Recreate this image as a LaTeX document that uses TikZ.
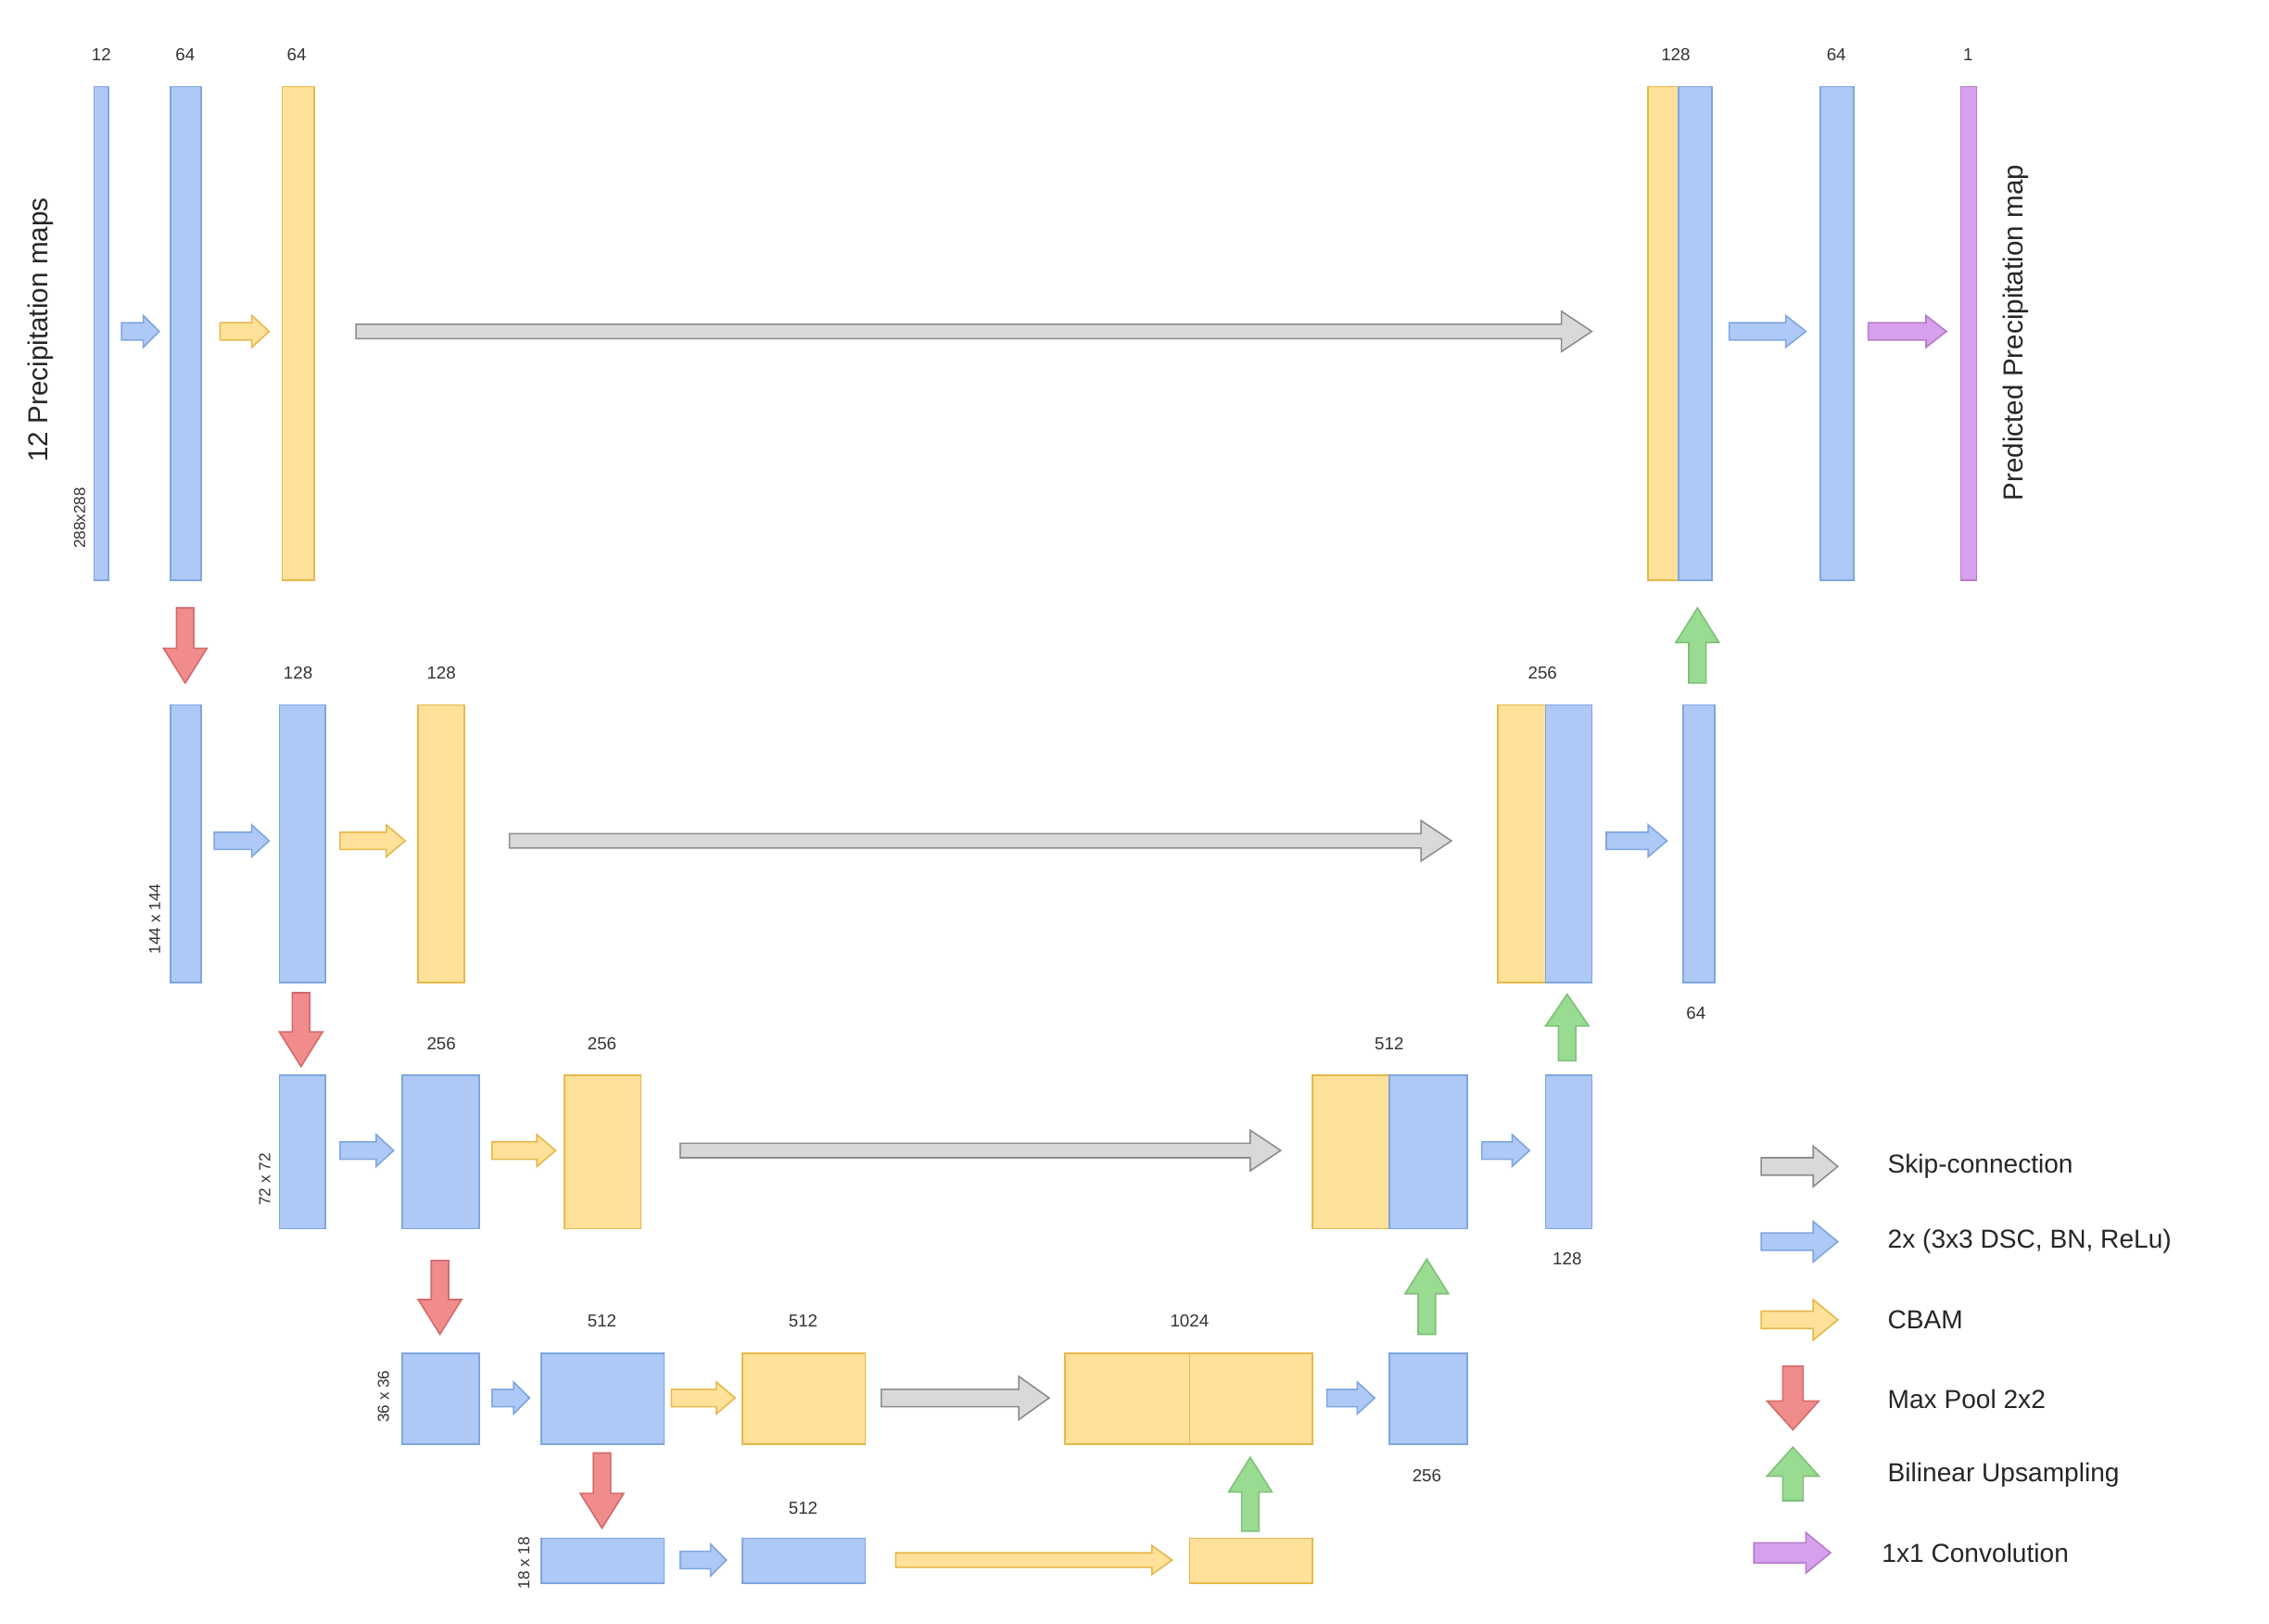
\documentclass[tikz,border=0pt]{standalone}
\usepackage{fontspec}
\setmainfont{Liberation Sans}
\definecolor{bF}{HTML}{AEC9F5}\definecolor{bD}{HTML}{7EA6E0}
\definecolor{yF}{HTML}{FFE199}\definecolor{yD}{HTML}{E6B84A}
\definecolor{gF}{HTML}{D9D9D9}\definecolor{gD}{HTML}{8C8C8C}
\definecolor{rF}{HTML}{F08C8C}\definecolor{rD}{HTML}{D46A6A}
\definecolor{nF}{HTML}{9ADB92}\definecolor{nD}{HTML}{7FC078}
\definecolor{pF}{HTML}{D7A0EC}\definecolor{pD}{HTML}{B47CCB}
\tikzset{
 bl/.style={fill=bF,draw=bD,line width=1pt},
 yl/.style={fill=yF,draw=yD,line width=1pt},
 gr/.style={fill=gF,draw=gD,line width=1pt},
 rd/.style={fill=rF,draw=rD,line width=1pt},
 gn/.style={fill=nF,draw=nD,line width=1pt},
 pu/.style={fill=pF,draw=pD,line width=1pt},
 num/.style={font=\fontsize{12}{14}\selectfont,text=black!80},
 dim/.style={font=\fontsize{11}{13}\selectfont,text=black!80,rotate=90},
 leg/.style={font=\fontsize{18}{21}\selectfont,text=black!85,anchor=west},
}
\newcommand\blk[6]{\node[#6,inner sep=0pt,outer sep=0pt,minimum width={(#4-#2)*1pt},minimum height={(#5-#3)*1pt}] (#1) at ({(#2+#4)/2},{(#3+#5)/2}) {};}
% horizontal right arrow: x1,x2,y,shaft half,head half,head len,style
\newcommand\hArr[7]{\draw[#7] (#1,#3-#4) -- (#2-#6,#3-#4) -- (#2-#6,#3-#5) -- (#2,#3) -- (#2-#6,#3+#5) -- (#2-#6,#3+#4) -- (#1,#3+#4) -- cycle;}
% vertical down arrow: x,y1,y2,...
\newcommand\dArr[7]{\draw[#7] (#1-#4,#2) -- (#1-#4,#3-#6) -- (#1-#5,#3-#6) -- (#1,#3) -- (#1+#5,#3-#6) -- (#1+#4,#3-#6) -- (#1+#4,#2) -- cycle;}
% vertical up arrow: x,y1(bottom),y2(top)
\newcommand\uArr[7]{\draw[#7] (#1-#4,#2) -- (#1-#4,#3+#6) -- (#1-#5,#3+#6) -- (#1,#3) -- (#1+#5,#3+#6) -- (#1+#4,#3+#6) -- (#1+#4,#2) -- cycle;}
\begin{document}
\begin{tikzpicture}[x=1pt,y=-1pt]
\useasboundingbox[fill=white] (0,0) rectangle (1568,1122);
% ---- row 1
\blk{a1}{65}{60}{75}{401}{bl}
\blk{a2}{118}{60}{139}{401}{bl}
\blk{a3}{195}{60}{217}{401}{yl}
\blk{a4}{1139}{60}{1160}{401}{yl}
\blk{a5}{1160}{60}{1183}{401}{bl}
\blk{a6}{1258}{60}{1281}{401}{bl}
\blk{a7}{1355}{60}{1366}{401}{pu}
\node[num] at (70,38) {12};
\node[num] at (128,38) {64};
\node[num] at (205,38) {64};
\node[num] at (1158,38) {128};
\node[num] at (1269,38) {64};
\node[num] at (1360,38) {1};
\node[rotate=90,font=\fontsize{19}{22}\selectfont,text=black!85] at (28,228) {12 Precipitation maps};
\node[dim] at (55,358) {288x288};
\node[rotate=90,font=\fontsize{19}{22}\selectfont,text=black!85] at (1393,230) {Predicted Precipitation map};
\hArr{84}{110}{229}{6}{11}{11}{bl}
\hArr{152}{186}{229}{6}{11}{12}{yl}
\hArr{246}{1100}{229}{5}{14}{21}{gr}
\hArr{1195}{1248}{229}{6}{11}{14}{bl}
\hArr{1291}{1345}{229}{6}{11}{14}{pu}
\dArr{128}{420}{472}{6}{15}{24}{rd}
\uArr{1173}{472}{420}{6}{15}{24}{gn}
% ---- row 2
\blk{b1}{118}{487}{139}{679}{bl}
\blk{b2}{193}{487}{225}{679}{bl}
\blk{b3}{289}{487}{321}{679}{yl}
\blk{b4}{1035}{487}{1068}{679}{yl}
\blk{b5}{1068}{487}{1100}{679}{bl}
\blk{b6}{1163}{487}{1185}{679}{bl}
\node[num] at (206,465) {128};
\node[num] at (305,465) {128};
\node[num] at (1066,465) {256};
\node[num] at (1172,700) {64};
\node[dim] at (107,635) {144 x 144};
\hArr{148}{186}{581}{6}{11}{12}{bl}
\hArr{235}{280}{581}{6}{11}{13}{yl}
\hArr{352}{1003}{581}{5}{14}{21}{gr}
\hArr{1110}{1152}{581}{6}{11}{13}{bl}
\dArr{208}{686}{737}{6}{15}{24}{rd}
\uArr{1083}{733}{687}{6}{15}{22}{gn}
% ---- row 3
\blk{c1}{193}{743}{225}{849}{bl}
\blk{c2}{278}{743}{331}{849}{bl}
\blk{c3}{390}{743}{443}{849}{yl}
\blk{c4}{907}{743}{960}{849}{yl}
\blk{c5}{960}{743}{1014}{849}{bl}
\blk{c6}{1068}{743}{1100}{849}{bl}
\node[num] at (305,721) {256};
\node[num] at (416,721) {256};
\node[num] at (960,721) {512};
\node[num] at (1083,870) {128};
\node[dim] at (183,815) {72 x 72};
\hArr{235}{272}{795}{6}{11}{12}{bl}
\hArr{340}{384}{795}{6}{11}{13}{yl}
\hArr{470}{885}{795}{5}{14}{21}{gr}
\hArr{1024}{1057}{795}{6}{11}{12}{bl}
\dArr{304}{871}{922}{6}{15}{24}{rd}
\uArr{986}{922}{870}{6}{15}{24}{gn}
% ---- row 4
\blk{d1}{278}{935}{331}{998}{bl}
\blk{d2}{374}{935}{459}{998}{bl}
\blk{d3}{513}{935}{598}{998}{yl}
\blk{d4}{736}{935}{822}{998}{yl}
\blk{d5}{822}{935}{907}{998}{yl}
\blk{d6}{960}{935}{1014}{998}{bl}
\node[num] at (416,913) {512};
\node[num] at (555,913) {512};
\node[num] at (822,913) {1024};
\node[num] at (986,1020) {256};
\node[dim] at (265,965) {36 x 36};
\hArr{340}{366}{966}{6}{11}{11}{bl}
\hArr{464}{508}{966}{6}{11}{13}{yl}
\hArr{609}{725}{966}{6}{15}{21}{gr}
\hArr{917}{950}{966}{6}{11}{12}{bl}
\dArr{416}{1004}{1056}{6}{15}{24}{rd}
\uArr{864}{1058}{1007}{6}{15}{24}{gn}
% ---- row 5
\blk{e1}{374}{1063}{459}{1094}{bl}
\blk{e2}{513}{1063}{598}{1094}{bl}
\blk{e3}{822}{1063}{907}{1094}{yl}
\node[num] at (555,1042) {512};
\node[dim] at (362,1080) {18 x 18};
\hArr{470}{502}{1078}{6}{11}{11}{bl}
\hArr{619}{810}{1078}{5}{10}{14}{yl}
% ---- legend
\hArr{1217}{1270}{806}{6}{14}{17}{gr}
\hArr{1217}{1270}{858}{6}{14}{17}{bl}
\hArr{1217}{1270}{912}{6}{14}{17}{yl}
\dArr{1239}{944}{988}{7}{18}{20}{rd}
\uArr{1239}{1037}{1000}{7}{18}{20}{gn}
\hArr{1212}{1265}{1073}{7}{14}{17}{pu}
\node[leg] at (1301,806) {Skip-connection};
\node[leg] at (1301,858) {2x (3x3 DSC, BN, ReLu)};
\node[leg] at (1301,912) {CBAM};
\node[leg] at (1301,967) {Max Pool 2x2};
\node[leg] at (1301,1019) {Bilinear Upsampling};
\node[leg] at (1297,1073) {1x1 Convolution};
\end{tikzpicture}
\end{document}
